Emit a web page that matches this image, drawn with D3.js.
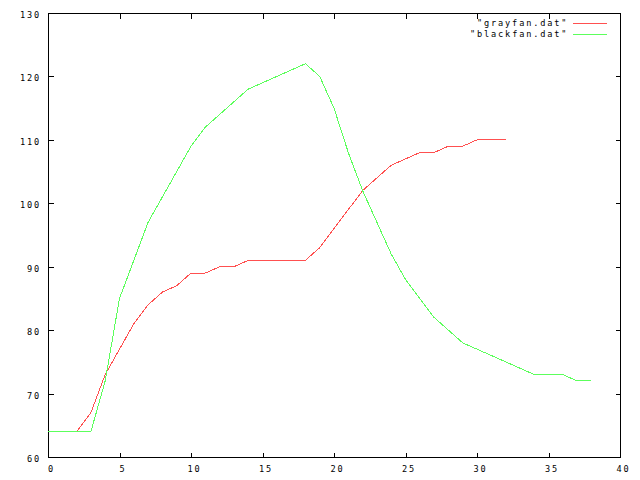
<!DOCTYPE html>
<html><head><meta charset="utf-8">
<script src="https://cdn.jsdelivr.net/npm/d3@7"></script>
<style>
html,body{margin:0;padding:0;background:#fff;}
svg text{font-family:"DejaVu Sans Mono",monospace;font-size:8.6px;letter-spacing:1.85px;fill:#000;}
</style></head>
<body>
<svg id="c" width="640" height="480"></svg>
<script>
const grayX = [2,3,4,5,6,7,8,9,10,11,12,13,14,15,16,17,18,19,20,21,22,23,24,25,26,27,28,29,30,31,32];
const grayY = [64,67,73,77,81,84,86,87,89,89,90,90,91,91,91,91,91,93,96,99,102,104,106,107,108,108,109,109,110,110,110];
const blackX = [0,1,2,3,4,5,6,7,8,9,10,11,12,13,14,15,16,17,18,19,20,21,22,23,24,25,26,27,28,29,30,31,32,33,34,35,36,37,38];
const blackY = [64,64,64,64,72,85,91,97,101,105,109,112,114,116,118,119,120,121,122,120,115,108,102,97,92,88,85,82,80,78,77,76,75,74,73,73,73,72,72];
const xTicks = [0,5,10,15,20,25,30,35,40];
const yTicks = [60,70,80,90,100,110,120,130];
const seriesNames = ['"grayfan.dat"','"blackfan.dat"'];
const seriesColors = ["#ff5050","#5cff5c"];

const svg = d3.select("#c");
const L=48, R=620, T=13, B=457;
const x = d3.scaleLinear().domain([0,40]).range([L,R]);
const y = d3.scaleLinear().domain([60,130]).range([B,T]);
const tl = 5;

const ax = svg.append("g").attr("shape-rendering","crispEdges").attr("stroke","#000").attr("stroke-width",1);
// frame
ax.append("rect").attr("x",L+0.5).attr("y",T+0.5).attr("width",R-L).attr("height",B-T).attr("fill","none");
// ticks
xTicks.forEach(v=>{
  ax.append("line").attr("x1",x(v)+0.5).attr("x2",x(v)+0.5).attr("y1",B+0.5).attr("y2",B-tl+0.5);
  ax.append("line").attr("x1",x(v)+0.5).attr("x2",x(v)+0.5).attr("y1",T+0.5).attr("y2",T+tl+0.5);
});
yTicks.forEach(v=>{
  ax.append("line").attr("x1",L+0.5).attr("x2",L+tl+0.5).attr("y1",Math.round(y(v))+0.5).attr("y2",Math.round(y(v))+0.5);
  ax.append("line").attr("x1",R+0.5).attr("x2",R-tl+0.5).attr("y1",Math.round(y(v))+0.5).attr("y2",Math.round(y(v))+0.5);
});
// labels
xTicks.forEach(v=>{
  const s=String(v);
  svg.append("text").attr("x",x(v)+2.5 - (s.length*7)/2+1).attr("y",472).text(s);
});
yTicks.forEach(v=>{
  const s=String(v);
  svg.append("text").attr("x",40 - s.length*7+1).attr("y",Math.round(y(v))+4.5).text(s);
});

const line = d3.line().x(d=>x(d[0])).y(d=>y(d[1]));
const gray = grayX.map((v,i)=>[v,grayY[i]]);
const black = blackX.map((v,i)=>[v,blackY[i]]);
[gray,black].forEach((data,i)=>{
  svg.append("path").datum(data).attr("d",line).attr("fill","none")
    .attr("stroke",seriesColors[i]).attr("stroke-width",1).attr("shape-rendering","crispEdges");
});

// legend
seriesNames.forEach((n,i)=>{
  const yy = 23 + i*11;
  const txt = svg.append("text").attr("y",yy+2.5).text(n);
  const w = n.length*7;
  txt.attr("x",566 - w + 2);
  svg.append("line").attr("x1",573).attr("x2",607).attr("y1",yy+0.5).attr("y2",yy+0.5)
    .attr("stroke",seriesColors[i]).attr("stroke-width",1).attr("shape-rendering","crispEdges");
});
</script>
</body></html>
